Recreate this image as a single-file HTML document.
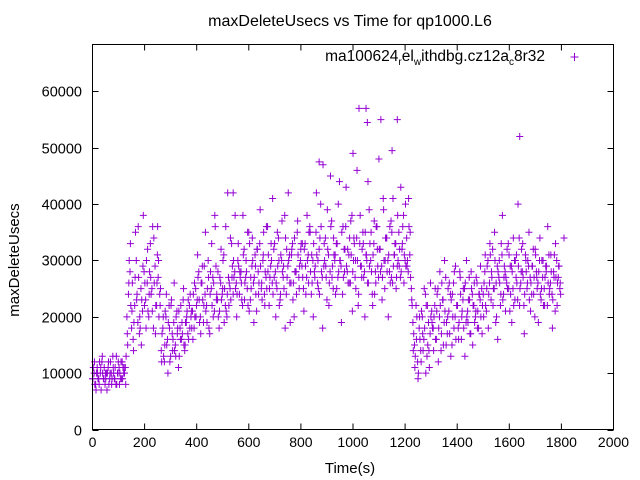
<!DOCTYPE html>
<html><head><meta charset="utf-8"><style>
body{margin:0;background:#fff;}
svg{display:block;font-family:"Liberation Sans",sans-serif;}
</style></head><body>
<svg id="chart" width="640" height="480" xmlns="http://www.w3.org/2000/svg">
<rect width="640" height="480" fill="#fff"/>
<text x="350" y="26" font-size="16" text-anchor="middle">maxDeleteUsecs vs Time for qp1000.L6</text>
<text x="350" y="473" font-size="15" text-anchor="middle">Time(s)</text>
<text transform="translate(19,260) rotate(-90)" font-size="15" text-anchor="middle">maxDeleteUsecs</text>
<g id="axes"></g>
<g id="points"></g>
<g>
<text x="545" y="61" font-size="15.5" text-anchor="end">ma100624<tspan font-size="10" dy="4">r</tspan><tspan dy="-4">el</tspan><tspan font-size="10" dy="4">w</tspan><tspan dy="-4">ithdbg.cz12a</tspan><tspan font-size="10" dy="4">c</tspan><tspan dy="-4">8r32</tspan></text>
<path d="M570.5 57h8M574.5 53v8" stroke="#9400d3" stroke-width="1"/>
</g>
<rect x="92.5" y="44.5" width="521" height="385" fill="none" stroke="#000"/>
</svg>
<script>
const xTicks=[0,200,400,600,800,1000,1200,1400,1600,1800,2000];
const yTicks=[0,10000,20000,30000,40000,50000,60000];
const valuesA=[9,10,8,11,9,10,12,9,8,10,11,9,10,13,9,8,10,11,9,12,10,11,
20,24,28,18,16,22,30,19,17,25,21,28,
23,26,20,33,25,18,29,22,27,24,
14,18,12,20,16,22,13,17,19,15,21,11,18,16,23,14,19,17,22,20,
21,18,25,23,28,20,26,19,24,22,30,17,25,27,21,29,23,18,26,24,31,22,20,27,25,33,24,28,
26,30,24,28,22,32,27,25,35,23,29,26,31,21,28,33,25,30,24,27,36,22,29,26,32,28,25,34,23,30,27,38,24,29,31,26,33,20,28,35,27,30,
29,25,33,27,31,36,24,30,28,35,26,32,40,27,29,34,23,31,28,37,25,30,33,27,44,29,24,32,36,28,31,26,38,30,27,34,22,33,29,35,28,31,26,39,30,24,33,28,36,27,32,29,41,25,34,30,28,37,26,31,33,29,35,27,32,38,30,
34,28,31,25,19,15,22,12,18,14,20,16,24,13,19,17,21,
18,22,16,25,20,14,23,19,27,17,21,24,15,26,20,22,18,28,16,23,25,19,21,27,17,24,22,20,26,18,23,25,
24,28,21,30,26,23,32,25,19,29,27,22,31,24,28,26,33,21,29,25,30,27,23,34,26,28,22,31,25,29,27,24,32,20,28,26,30,23,27,25,29,22,31,26,24,28,21,30,27,25];
const valuesB=[11,8,10,9,12,7,10,11,9,10,8,12,9,10,11,8,12,10,9,11,10,13,
15,30,22,26,19,35,24,27,18,23,38,26,
30,21,28,24,36,26,22,31,20,25,
17,13,21,15,19,12,23,16,14,20,18,13,22,17,15,19,21,16,24,18,
24,20,22,27,19,26,23,29,21,25,18,28,22,26,36,24,20,27,23,30,25,21,42,26,23,29,27,25,
24,29,27,23,31,26,28,22,33,25,30,27,24,32,26,29,23,35,28,25,31,27,30,24,33,26,29,22,31,28,25,34,27,30,19,32,26,28,24,31,29,33,
27,32,24,30,35,28,26,33,29,31,25,34,28,47,30,27,32,26,36,29,31,24,33,28,30,35,27,32,29,26,34,31,28,33,25,30,57,29,32,27,35,30,26,33,28,31,24,36,29,32,55,27,30,34,28,31,26,35,29,33,27,30,32,28,36,31,29,
30,36,27,22,17,13,20,10,16,21,14,18,22,15,11,20,18,
20,16,24,18,22,26,15,21,19,25,17,23,20,28,16,22,19,24,21,18,26,20,23,17,25,22,19,27,21,24,20,22,
26,22,29,24,31,27,25,30,20,28,26,33,23,29,27,25,31,24,28,22,30,26,29,25,32,27,24,28,30,23,26,29,27,31,25,28,24,30,22,27,29,26,25,28,23,31,27,26,29,24];
const valuesC=[9,12,7,10,8,11,13,9,10,7,12,10,8,11,9,13,10,8,12,9,11,8,
17,26,33,21,14,27,23,36,20,15,29,22,
18,32,24,27,21,34,17,26,30,22,
12,20,15,24,10,18,22,14,26,13,17,21,16,19,25,15,20,23,18,21,
16,26,20,31,23,17,29,22,35,19,27,24,33,20,38,23,28,21,32,25,19,36,24,22,34,27,30,38,
20,33,28,26,38,23,30,35,21,27,34,19,29,32,24,39,26,31,22,36,28,25,33,41,27,20,35,30,24,37,29,18,32,42,26,31,23,34,28,37,25,32,
33,21,29,38,26,35,31,20,27,42,30,24,36,18,33,29,39,22,45,27,34,31,25,40,30,19,36,28,43,32,26,37,21,34,30,46,24,38,27,33,20,31,44,29,35,22,37,26,32,48,28,23,39,30,34,20,36,27,41,31,25,38,29,43,33,26,40,
29,41,35,23,14,11,16,9,20,12,17,25,10,22,14,26,19,
14,25,21,12,28,17,23,30,15,20,26,13,24,18,29,22,16,27,20,25,13,30,19,23,28,15,26,21,18,24,29,17,
20,31,25,18,33,28,22,35,26,16,30,24,38,27,21,32,25,29,19,34,23,31,40,22,28,33,17,30,26,35,21,29,24,32,27,19,34,25,30,22,28,36,24,31,18,27,33,22,29,26];
const outlierTimes=[250,540,870,1000,1050,1055,1150,1170,1640,1810];
const outlierValues=[36000,42000,47500,49000,57000,54500,49500,55000,52000,34000];

const X0=92.5,X1=613.5,Y0=429.5,Y1=44.5;
const xs=v=>X0+(v/2000)*(X1-X0);
const ys=v=>Y0-(v/68333)*(Y0-Y1);
const NS="http://www.w3.org/2000/svg";
const axes=document.getElementById('axes');
const pts=document.getElementById('points');
function mk(tag,attrs,parent){const e=document.createElementNS(NS,tag);for(const k in attrs)e.setAttribute(k,attrs[k]);parent.appendChild(e);return e;}
xTicks.forEach(t=>{
  const x=xs(t);
  const l=mk('path',{d:`M${x} ${Y0}v-6M${x} ${Y1}v6`,stroke:'#000'},axes);
  
  
  const tx=mk('text',{x:x,y:447,'font-size':14,'text-anchor':'middle'},axes);
  tx.textContent=t;
  
  
});
yTicks.forEach(t=>{
  const y=Math.round(ys(t))+0.5;
  const l=mk('path',{d:`M${X0} ${y}h6M${X1} ${y}h-6`,stroke:'#000'},axes);
  
  
  const tx=mk('text',{x:82,y:y+5,'font-size':14.5,'text-anchor':'end'},axes);
  tx.textContent=t;
  
  
});
function plus(t,v){
  const x=xs(t),y=ys(v);
  const p=mk('path',{d:`M${x-3.5} ${y}h7M${x} ${y-3.5}v7`,stroke:'#9400d3','stroke-width':1},pts);
  
  
}
valuesA.forEach((v,i)=>plus(i*6,v*1000));
valuesB.forEach((v,i)=>plus(i*6+3,v*1000));
valuesC.forEach((v,i)=>plus(i*6+1.5,v*1000));
outlierTimes.forEach((t,i)=>plus(t,outlierValues[i]));
</script>
</body></html>
